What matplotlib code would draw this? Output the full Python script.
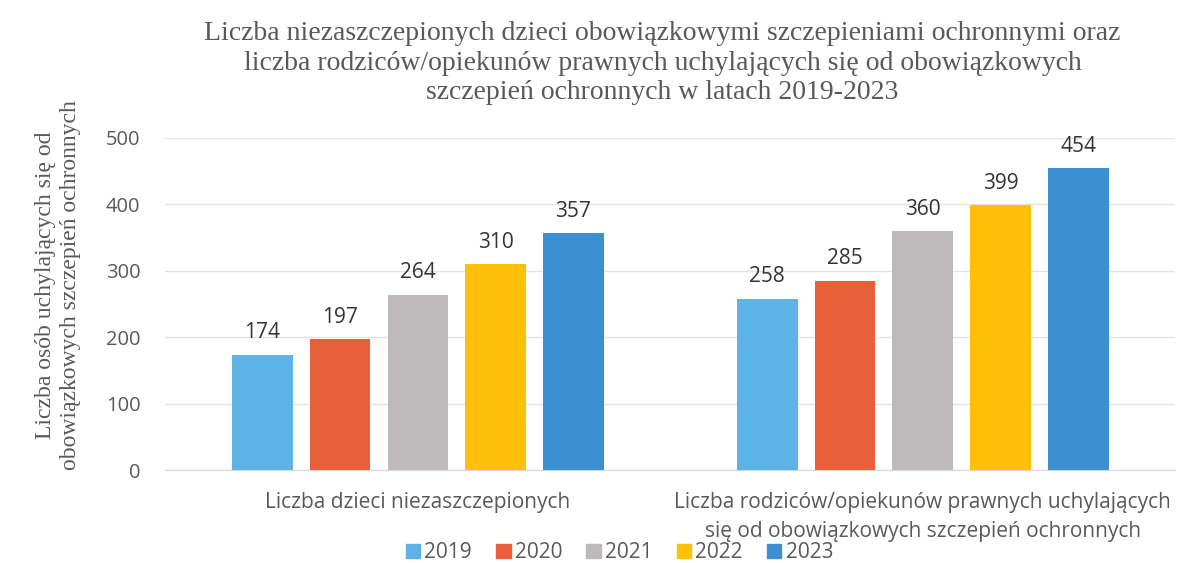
import numpy as np
import matplotlib.pyplot as plt
from matplotlib.patches import Patch

categories = ["Liczba dzieci niezaszczepionych",
              "Liczba rodziców/opiekunów prawnych uchylających\nsię od obowiązkowych szczepień ochronnych"]
years = ["2019", "2020", "2021", "2022", "2023"]
values = {
    "2019": [174, 258],
    "2020": [197, 285],
    "2021": [264, 360],
    "2022": [310, 399],
    "2023": [357, 454],
}
colors = ["#5DB3E6", "#E8603A", "#BDB8B9", "#FFC008", "#3C90D2"]

title = ("Liczba niezaszczepionych dzieci obowiązkowymi szczepieniami ochronnymi oraz\n"
         "liczba rodziców/opiekunów prawnych uchylających się od obowiązkowych\n"
         "szczepień ochronnych w latach 2019-2023")
ylabel = "Liczba osób uchylających się od\nobowiązkowych szczepień ochronnych"

sans = ["Open Sans", "DejaVu Sans"]
serif = ["Liberation Serif", "DejaVu Serif"]

fig = plt.figure(figsize=(11.98, 5.63), dpi=100)
ax = fig.add_axes([0.138, 0.165, 0.843, 0.59])

x = np.arange(len(categories))
width = 0.12
step = 0.154
for i, yr in enumerate(years):
    pos = x + (i - 2) * step
    bars = ax.bar(pos, values[yr], width=width, color=colors[i], zorder=3)
    for b, v in zip(bars, values[yr]):
        ax.text(b.get_x() + b.get_width() / 2, v + 17, str(v), ha="center", va="bottom",
                fontsize=15, color="#333333", family=sans)

ax.set_xlim(-0.5, 1.5)
ax.set_ylim(0, 500)
ax.set_yticks(range(0, 501, 100))
ax.grid(axis="y", color="#e3e3e3", linewidth=1, zorder=0)
for s in ["top", "right", "left"]:
    ax.spines[s].set_visible(False)
ax.spines["bottom"].set_color("#d9d9d9")
ax.tick_params(axis="both", length=0, colors="#595959", labelsize=14.5)
ax.tick_params(axis="y", pad=18)
for lab in ax.get_yticklabels():
    lab.set_family(sans)

ax.set_xticks(x)
ax.set_xticklabels(categories, fontsize=15, family=sans, color="#595959", linespacing=1.5)
ax.tick_params(axis="x", pad=16)

fig.text(0.048, 0.494, ylabel, rotation=90, ha="center", va="center", fontsize=17,
         family=serif, color="#595959", linespacing=1.25)
fig.text(0.553, 0.888, title, ha="center", va="center", fontsize=20, family=serif,
         color="#595959", linespacing=1.22)

handles = [Patch(color=c, label=y) for c, y in zip(colors, years)]
fig.legend(handles=handles, loc="center", bbox_to_anchor=(0.517, 0.018), ncol=5, frameon=False,
           prop={"family": sans, "size": 15}, handlelength=0.7, handleheight=0.7,
           handletextpad=0.2, columnspacing=1.15, labelcolor="#595959")

fig.savefig("out.png", dpi=100)
